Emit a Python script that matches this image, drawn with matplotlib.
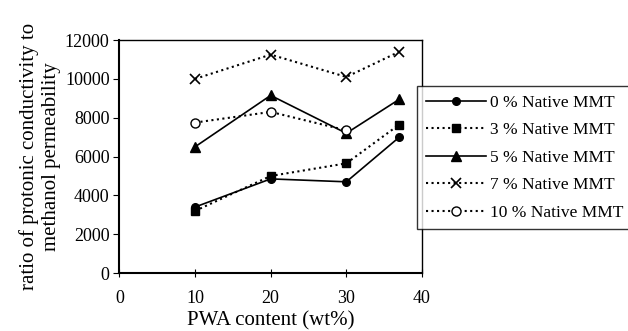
import matplotlib
matplotlib.use('Agg')
import matplotlib.pyplot as plt

# PWA content (wt%)
pwa = [10, 20, 30, 37]
pwa_10 = [10, 20, 30]

mmt_0 = [3400, 4850, 4700, 7000]
mmt_3 = [3200, 5000, 5650, 7650]
mmt_5 = [6500, 9150, 7200, 8950]
mmt_7 = [10000, 11250, 10100, 11400]
mmt_10 = [7750, 8300, 7350]

plt.rcParams['font.family'] = ['Liberation Serif', 'DejaVu Serif']

fig = plt.figure(figsize=(6.28, 3.31), dpi=100)
ax = fig.add_axes([0.19, 0.175, 0.482, 0.704])

ax.plot(pwa, mmt_0, '-', color='black', marker='o', ms=5.5, lw=1.2,
        label='0 % Native MMT')
ax.plot(pwa, mmt_3, ':', color='black', marker='s', ms=5.5, lw=1.5,
        label='3 % Native MMT')
ax.plot(pwa, mmt_5, '-', color='black', marker='^', ms=6.5, lw=1.2,
        label='5 % Native MMT')
ax.plot(pwa, mmt_7, ':', color='black', marker='x', ms=6.5, mew=1.2, lw=1.5,
        label='7 % Native MMT')
ax.plot(pwa_10, mmt_10, ':', color='black', marker='o', ms=6.5, mfc='white',
        lw=1.5, label='10 % Native MMT')

ax.set_xlim(0, 40)
ax.set_ylim(0, 12000)
ax.set_xticks([0, 10, 20, 30, 40])
ax.set_yticks(range(0, 12001, 2000))
ax.tick_params(labelsize=13, direction='out', length=4, color='black', pad=3)
ax.tick_params(axis='x', direction='inout', length=6, pad=9)
for s in ax.spines.values():
    s.set_color('black')
    s.set_linewidth(1.0)
ax.spines['bottom'].set_linewidth(1.5)
ax.spines['left'].set_linewidth(1.5)

ax.set_xlabel('PWA content (wt%)', fontsize=15, labelpad=3)
ax.set_ylabel('ratio of protonic conductivity to\nmethanol permeability',
              fontsize=15, linespacing=1.2, labelpad=3)

leg = fig.legend(loc='upper left', bbox_to_anchor=(0.664, 0.74),
                 fontsize=12.5, frameon=True, fancybox=False, edgecolor='black',
                 handlelength=3.5, labelspacing=0.65, borderpad=0.5,
                 handletextpad=0.2, borderaxespad=0)
leg.get_frame().set_linewidth(1.0)

fig.savefig('out.png', dpi=100)
